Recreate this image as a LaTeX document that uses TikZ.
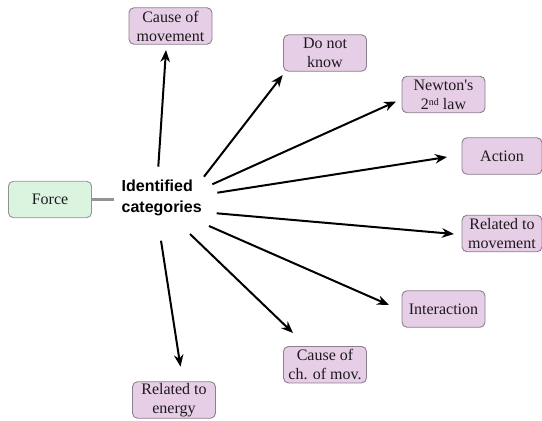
\documentclass[tikz,border=0pt]{standalone}
\usepackage{fontspec}
\setmainfont{Liberation Serif}[Ligatures=TeXOff]
\newfontfamily\catfont{Liberation Sans}
\usetikzlibrary{arrows.meta}
\definecolor{catfill}{RGB}{230,206,230}
\definecolor{catdraw}{RGB}{140,128,140}
\definecolor{forcefill}{RGB}{218,244,224}
\definecolor{forcedraw}{RGB}{140,150,142}
\definecolor{txt}{RGB}{30,25,30}
\begin{document}
\begin{tikzpicture}[x=1pt,y=-1pt,
  box/.style={draw=catdraw, fill=catfill, rounded corners=5pt, line width=0.9pt,
    minimum width=83pt, minimum height=36.5pt, align=center, inner sep=1pt,
    text=txt, font=\fontsize{16}{19}\selectfont},
  forcebox/.style={box, draw=forcedraw, fill=forcefill},
  arr/.style={line width=2pt, -{Stealth[length=12pt,width=9.5pt]}},
  link/.style={draw=gray!85, line width=2.2pt}]
\useasboundingbox (0,0) rectangle (542,421);
% boxes
\node[forcebox] (force) at (50,199.5) {Force};
\node[anchor=west, align=left, inner xsep=7.5pt, inner ysep=2pt,
  font=\catfont\bfseries\fontsize{16}{21}\selectfont] (cats) at (114,198) {Identified\\categories};
\node[box] (cause) at (170.5,26) {Cause of\\movement};
\node[box] (dnk) at (325,53) {Do not\\know};
\node[box] (newton) at (443.5,94.5) {Newton's\\2\raisebox{0.45ex}{\fontsize{10}{10}\selectfont nd} law};
\node[box, minimum width=80pt] (action) at (502,156) {Action};
\node[box, minimum width=80pt] (relmov) at (502,233.5) {Related to\\movement};
\node[box] (inter) at (443.5,309) {Interaction};
\node[box] (chmov) at (325,364.7) {Cause of\\ch. of mov.};
\node[box] (energy) at (174,400) {Related to\\energy};
% connector to force
\draw[link] (force.east) -- (force.east -| cats.west);
% arrow ends
\coordinate (s1) at (158.3,166.7); \coordinate (t1) at (166,50);
\coordinate (s2) at (204,176.7);   \coordinate (t2) at (282.7,75);
\coordinate (s3) at (212.3,184.3); \coordinate (t3) at (396,101.5);
\coordinate (s4) at (217.3,192.7); \coordinate (t4) at (447,157);
\coordinate (s5) at (216.7,213.3); \coordinate (t5) at (454,234);
\coordinate (s6) at (209,226);     \coordinate (t6) at (389,305);
\coordinate (s7) at (190,234);     \coordinate (t7) at (293,333);
\coordinate (s8) at (161,240.7);   \coordinate (t8) at (180.5,366.7);
\foreach \i in {1,...,8} {\draw[arr] (s\i) -- (t\i);}
\end{tikzpicture}
\end{document}
